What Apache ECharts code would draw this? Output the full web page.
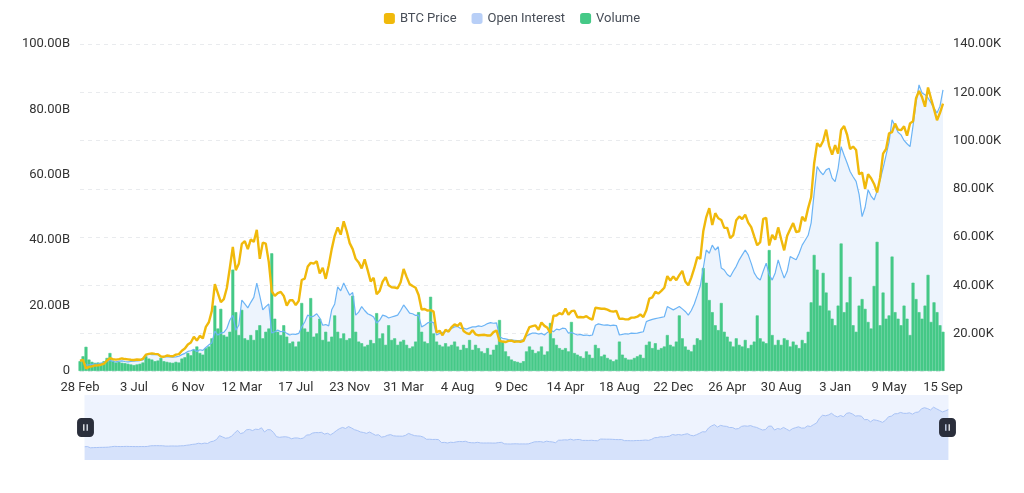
<!DOCTYPE html>
<html>
<head>
<meta charset="utf-8">
<script src="https://cdn.jsdelivr.net/npm/echarts@6/dist/echarts.min.js"></script>
<style>html,body{margin:0;padding:0;background:#fff;}#c{width:1024px;height:493px;}</style>
</head>
<body>
<div id="c"></div>
<script>
// Tick labels (one every 18 weekly points)
var tickLabels = ['28 Feb','3 Jul','6 Nov','12 Mar','17 Jul','23 Nov','31 Mar','4 Aug','9 Dec','14 Apr','18 Aug','22 Dec','26 Apr','30 Aug','3 Jan','9 May','15 Sep'];

// BTC price (USD), weekly
var btcPrice = [
 8700,9100,5600,6200,6400,6800,6900,7100,7500,8800,9800,9400,9200,9400,9700,9450,9300,9150,
 9050,9250,9150,9550,11300,11600,11800,11600,11500,10500,10400,10900,10700,10600,11300,11500,12900,13800,
 15500,16300,18700,17100,19100,18000,22800,24700,29400,40500,36800,33000,34300,38900,47200,55900,46300,48900,
 57200,58300,55000,59000,58000,63000,51000,57700,57300,49700,37500,35600,36800,37300,35600,31600,33800,33800,
 31800,33600,42200,42800,47800,49300,49000,50000,44900,47300,42700,48200,55000,60500,64000,61000,66500,62500,
 57500,55000,51000,49500,47000,50800,46300,41600,43100,36300,37700,41500,43400,40000,39200,39100,38800,41300,
 46800,43500,40500,39700,39000,36000,30000,30200,29500,29700,29100,20500,21200,19300,21600,20800,22700,23800,
 23200,24400,21100,20200,19800,21400,19700,19300,19400,19500,19200,19200,20600,21300,17000,16700,16500,17000,
 17100,16600,16800,16600,16950,19900,22700,23100,23400,21600,24600,23200,22400,20200,27400,27500,28500,28000,
 30400,27800,29300,29500,26800,26900,26700,27200,26300,25800,30700,30500,30300,30300,29900,29300,29100,29400,
 26100,26200,25900,25900,26600,26600,27000,27900,26900,29700,34500,35000,37300,36600,37700,39000,43800,42000,
 43700,42100,44200,46000,41600,40000,43200,47100,51700,51000,62400,68300,72000,65000,69900,67800,67100,63800,
 63800,59500,60800,67000,68500,67500,69300,66000,64100,60300,56600,57900,67500,67900,56500,60900,58900,64000,
 59100,54500,60500,63200,65800,62100,62400,68400,66600,72000,76500,90500,98900,97400,99800,104500,97800,94200,
 98100,94600,104400,106000,102400,96500,97500,96100,86000,86800,80000,86000,84400,82000,78500,84500,94600,96500,
 103000,103500,107000,104500,104300,105900,102000,107100,108000,117500,120500,118000,114000,122000,117400,113000,108400,111500,115300
];

// Open interest (billions USD), weekly
var openInterest = [
 3.4,3.2,1.8,1.9,2.0,2.1,2.2,2.4,2.6,3.0,3.2,2.9,2.8,3.0,3.1,2.9,2.8,2.9,
 3.0,3.1,3.2,3.4,4.8,5.2,5.0,5.0,5.1,4.4,4.3,4.4,4.3,4.2,4.3,4.5,5.0,5.4,
 6.0,6.2,6.6,6.0,6.5,6.3,7.2,8.0,8.6,12.2,11.0,11.6,11.8,13.0,15.6,17.0,12.5,14.0,
 21.7,20.5,19.3,21.0,22.5,26.9,23.0,18.7,19.7,20.5,11.6,12.0,12.5,12.0,12.2,11.5,11.0,11.3,
 11.2,11.5,13.5,15.0,17.1,16.5,16.8,17.5,16.2,14.0,14.2,13.8,18.7,20.5,25.7,24.5,26.9,25.0,
 23.2,24.0,17.1,18.0,19.7,18.5,17.5,17.1,16.5,14.7,15.5,17.1,16.8,16.2,16.5,16.8,17.1,18.5,
 20.2,19.0,17.7,17.5,17.0,17.1,13.5,14.0,14.7,15.0,14.8,11.0,11.5,11.8,12.0,12.5,13.0,13.5,
 13.6,13.0,13.1,12.8,13.2,13.5,13.5,13.8,13.6,14.0,14.5,14.8,14.6,14.7,10.5,10.0,9.8,9.6,
 9.5,9.4,9.3,9.4,9.6,10.7,11.2,11.6,11.6,11.3,11.5,11.0,11.8,12.5,12.0,12.8,12.6,13.1,
 13.0,11.6,11.8,11.4,11.0,11.2,10.9,11.0,10.8,11.0,14.0,14.4,14.2,14.0,14.1,13.9,14.0,13.9,
 11.0,11.2,11.4,11.3,11.6,11.5,11.6,11.8,12.0,15.1,15.5,15.8,16.0,16.2,16.4,16.6,19.7,19.2,
 18.7,19.2,19.7,19.0,18.2,17.1,18.5,20.5,23.2,26.0,31.5,37.0,36.0,38.5,37.0,38.0,31.5,30.9,
 29.5,28.8,30.5,32.0,34.0,35.5,37.0,35.5,32.9,30.0,28.5,27.8,30.5,33.0,29.5,27.8,30.0,34.0,
 31.0,28.4,30.5,35.0,34.5,34.0,36.0,38.5,40.0,41.5,45.3,54.4,62.5,61.0,60.0,61.5,62.0,59.0,
 57.9,62.0,68.6,66.0,63.6,61.0,59.4,58.0,54.0,47.2,50.0,55.4,53.5,52.3,55.0,58.4,62.0,66.0,
 70.0,76.8,75.0,73.0,72.2,70.5,69.5,68.6,75.0,82.0,87.5,85.0,84.5,83.5,82.0,80.4,78.9,81.0,86.0
];

// Volume (billions USD), weekly
var volume = [
 3.0,4.5,7.4,3.5,2.8,2.5,2.6,2.4,3.0,4.0,5.5,3.2,2.6,2.8,2.5,2.4,2.2,2.0,
 1.8,2.0,2.2,2.6,4.5,3.8,3.5,3.0,3.2,4.0,3.0,2.8,2.6,2.5,2.8,2.6,3.8,4.2,
 5.5,4.8,6.5,7.5,5.5,5.0,7.0,7.5,10.0,20.0,13.0,19.0,11.0,10.5,12.0,31.0,18.0,11.0,
 18.7,10.0,9.5,11.0,9.5,12.5,14.0,10.0,12.0,13.0,36.0,16.0,12.0,11.0,14.0,10.5,8.5,9.0,
 7.5,9.0,20.8,13.0,12.0,22.3,10.5,11.5,16.0,9.5,12.0,9.0,10.5,17.0,12.0,10.0,11.5,9.5,
 10.0,23.0,12.0,9.0,8.5,7.5,8.0,9.5,8.5,17.7,10.0,11.5,8.0,14.0,9.5,10.0,8.0,9.0,
 9.5,8.0,7.0,7.5,9.0,18.0,12.0,9.0,8.5,22.7,11.5,9.0,8.0,7.5,8.5,7.5,8.0,9.0,
 7.5,6.5,8.0,7.0,9.5,6.5,8.0,7.0,6.0,5.5,7.0,5.0,6.5,8.0,15.6,9.0,6.0,4.5,
 3.5,3.0,2.8,2.5,3.0,6.0,7.5,6.5,5.5,6.0,7.5,5.0,6.0,14.7,10.0,8.0,7.0,6.5,
 7.0,6.0,15.0,5.5,5.0,4.5,4.0,6.0,5.0,4.0,8.0,7.0,4.5,5.0,4.0,3.5,3.0,3.5,
 9.0,5.0,4.0,3.5,3.5,4.0,4.5,5.0,4.0,8.0,9.0,7.0,8.5,6.5,7.0,7.5,11.0,8.0,
 7.5,9.0,17.0,10.0,7.5,6.5,6.0,8.0,10.0,9.5,31.5,27.0,21.7,18.0,14.0,12.5,20.8,12.0,
 10.5,9.0,7.5,10.0,8.0,7.5,9.5,7.0,8.0,9.0,17.0,10.0,9.0,8.5,37.0,11.0,8.0,9.5,
 8.0,10.0,9.5,7.5,9.0,8.0,7.0,9.5,8.5,12.0,21.0,35.5,31.0,20.0,30.0,24.0,18.5,16.0,
 14.0,20.0,39.0,18.0,21.0,28.8,14.0,12.0,20.0,22.0,19.0,15.0,13.0,26.0,39.5,14.0,24.0,16.0,
 17.0,35.0,18.0,16.0,14.0,20.0,16.0,11.0,27.0,22.0,18.0,16.0,20.0,29.4,15.0,21.0,18.0,14.0,12.0
];

// Category axis: a tick label every 18 weekly points
var categories = [];
for (var s = 0; s < tickLabels.length - 1; s++) {
  for (var k = 0; k < 18; k++) {
    categories.push(k === 0 ? tickLabels[s] : tickLabels[s] + ' +' + k + 'w');
  }
}
categories.push(tickLabels[tickLabels.length - 1]);

var chart = echarts.init(document.getElementById('c'), null, {renderer: 'canvas'});
var FONT = 'Roboto';
var option = {
  animation: false,
  backgroundColor: '#ffffff',
  textStyle: {fontFamily: FONT},
  legend: {
    top: 7,
    left: 'center',
    icon: 'roundRect',
    itemWidth: 11,
    itemHeight: 11,
    itemGap: 15,
    itemStyle: {borderWidth: 0},
    textStyle: {color: '#474d57', fontSize: 13, fontFamily: FONT},
    data: ['BTC Price', 'Open Interest', 'Volume']
  },
  grid: {left: 80, right: 81, top: 44, bottom: 122, containLabel: false},
  xAxis: {
    type: 'category',
    data: categories,
    boundaryGap: false,
    axisLine: {show: false},
    axisTick: {show: false},
    axisLabel: {
      interval: 17,
      margin: 10,
      color: '#333',
      fontSize: 13,
      fontFamily: FONT,
      formatter: function (v) { return tickLabels.indexOf(v) >= 0 ? v : ''; }
    },
    splitLine: {show: false}
  },
  yAxis: [
    {
      type: 'value',
      min: 0,
      max: 100,
      interval: 20,
      position: 'left',
      axisLine: {show: false},
      axisTick: {show: false},
      splitLine: {show: false},
      axisLabel: {
        margin: 10, color: '#333', fontSize: 13, fontFamily: FONT,
        formatter: function (v) { return v === 0 ? '0' : v.toFixed(2) + 'B'; }
      }
    },
    {
      type: 'value',
      min: 4500,
      max: 140000,
      splitNumber: 7,
      position: 'right',
      axisLine: {show: false},
      axisTick: {show: false},
      splitLine: {show: true, lineStyle: {color: '#e9ebee', type: [4, 4], width: 1}},
      axisLabel: {
        margin: 10, color: '#333', fontSize: 13, fontFamily: FONT,
        showMinLabel: false,
        formatter: function (v) { return (v / 1000).toFixed(2) + 'K'; }
      }
    }
  ],
  dataZoom: [{
    type: 'slider',
    xAxisIndex: 0,
    start: 0,
    end: 100,
    left: 82,
    right: 78,
    top: 395,
    height: 65,
    showDetail: false,
    brushSelect: false,
    moveHandleSize: 0,
    borderColor: 'rgba(0,0,0,0)',
    backgroundColor: '#eef3fe',
    fillerColor: 'rgba(0,0,0,0)',
    handleIcon: 'path://M4,0 H12 A4,4 0 0 1 16,4 V14 A4,4 0 0 1 12,18 H4 A4,4 0 0 1 0,14 V4 A4,4 0 0 1 4,0 Z M5.8,6 V12 H7 V6 Z M9,6 V12 H10.2 V6 Z',
    handleSize: 19,
    handleStyle: {color: '#2a2e3b', borderWidth: 0, borderColor: '#2a2e3b'},
    emphasis: {handleStyle: {color: '#2a2e3b', borderWidth: 0}},
    dataBackground: {lineStyle: {color: '#a9c3f5', width: 1, opacity: 1}, areaStyle: {color: '#d6e2fb', opacity: 1}},
    selectedDataBackground: {lineStyle: {color: '#a9c3f5', width: 1, opacity: 1}, areaStyle: {color: '#d6e2fb', opacity: 1}}
  }],
  series: [
    {
      name: 'BTC Price',
      type: 'line',
      yAxisIndex: 1,
      data: btcPrice,
      symbol: 'none',
      z: 5,
      lineStyle: {color: '#F0B90B', width: 2.4},
      itemStyle: {color: '#F0B90B'}
    },
    {
      name: 'Open Interest',
      type: 'line',
      yAxisIndex: 0,
      data: openInterest,
      symbol: 'none',
      z: 1,
      lineStyle: {width: 0, opacity: 0},
      itemStyle: {color: '#b8cff7'},
      areaStyle: {color: '#edf4fd', opacity: 1}
    },
    {
      name: 'Volume',
      type: 'bar',
      yAxisIndex: 0,
      data: volume,
      z: 2,
      barCategoryGap: '0%',
      itemStyle: {color: '#45c987', borderColor: '#45c987', borderWidth: 0.6}
    },
    {
      name: 'Open Interest',
      type: 'line',
      yAxisIndex: 0,
      data: openInterest,
      symbol: 'none',
      z: 3,
      lineStyle: {color: '#6cb4f5', width: 1.2},
      itemStyle: {color: '#b8cff7'}
    }
  ]
};
chart.setOption(option);
</script>
</body>
</html>
